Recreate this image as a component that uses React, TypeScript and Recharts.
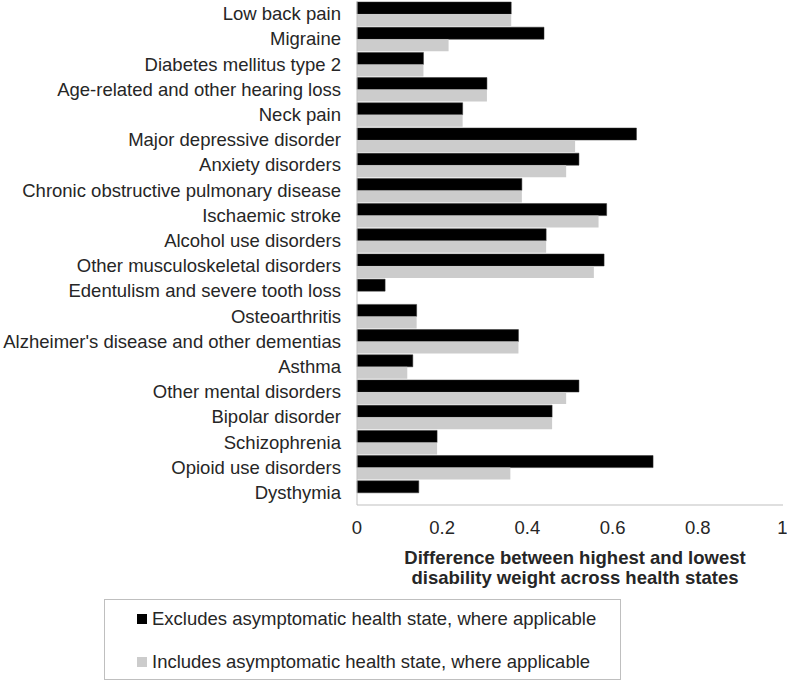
import React from 'react';
import { BarChart, Bar, XAxis, YAxis } from 'recharts';

// conditions, top to bottom
const conditions = [
  'Low back pain',
  'Migraine',
  'Diabetes mellitus type 2',
  'Age-related and other hearing loss',
  'Neck pain',
  'Major depressive disorder',
  'Anxiety disorders',
  'Chronic obstructive pulmonary disease',
  'Ischaemic stroke',
  'Alcohol use disorders',
  'Other musculoskeletal disorders',
  'Edentulism and severe tooth loss',
  'Osteoarthritis',
  "Alzheimer's disease and other dementias",
  'Asthma',
  'Other mental disorders',
  'Bipolar disorder',
  'Schizophrenia',
  'Opioid use disorders',
  'Dysthymia',
];

// excludes asymptomatic health state
const excludesAsym = [
  0.362, 0.439, 0.156, 0.305, 0.248, 0.656, 0.521, 0.387, 0.586, 0.444,
  0.58, 0.066, 0.14, 0.379, 0.131, 0.521, 0.458, 0.188, 0.695, 0.145,
];

// includes asymptomatic health state
const includesAsym = [
  0.362, 0.215, 0.156, 0.305, 0.248, 0.512, 0.491, 0.387, 0.567, 0.444,
  0.556, 0, 0.14, 0.379, 0.118, 0.491, 0.458, 0.188, 0.36, 0,
];

const xTicks = [0, 0.2, 0.4, 0.6, 0.8, 1];

const seriesNames = [
  'Excludes asymptomatic health state, where applicable',
  'Includes asymptomatic health state, where applicable',
];

const FONT = '"Liberation Sans", Arial, sans-serif';
const TEXT = '#262626';
const AXIS = '#bfbfbf';
const BLACK = '#000000';
const GREY = '#cccccc';
const FS = 18.5;

const data = conditions.map((name, i) => ({
  name,
  excl: excludesAsym[i],
  incl: includesAsym[i],
}));

export default function App() {
  return (
    <div
      style={{
        position: 'absolute',
        left: 0,
        top: 0,
        width: 787,
        height: 682,
        background: '#fff',
        fontFamily: FONT,
      }}
    >
      <BarChart
        width={787}
        height={682}
        data={data}
        layout="vertical"
        margin={{ top: 1, right: 4, bottom: 147, left: 0 }}
        barCategoryGap={1}
        barGap={0}
      >
        <XAxis
          type="number"
          domain={[0, 1]}
          ticks={xTicks}
          tickFormatter={(v) => `${v}`}
          tickLine={false}
          axisLine={{ stroke: AXIS }}
          tickMargin={10}
          tick={{ fill: TEXT, fontSize: FS, fontFamily: FONT }}
          height={30}
        />
        <YAxis
          type="category"
          dataKey="name"
          width={357}
          tickLine={false}
          axisLine={{ stroke: AXIS }}
          tickMargin={10}
          interval={0}
          tick={{ fill: TEXT, fontSize: FS, fontFamily: FONT }}
        />
        <Bar dataKey="excl" fill={BLACK} stroke="#333" strokeWidth={0.5} isAnimationActive={false} />
        <Bar dataKey="incl" fill={GREY} isAnimationActive={false} />
      </BarChart>

      {/* x axis title */}
      <div
        style={{
          position: 'absolute',
          left: 375,
          width: 400,
          top: 548,
          textAlign: 'center',
          fontWeight: 'bold',
          fontSize: FS,
          lineHeight: '20px',
          color: TEXT,
        }}
      >
        Difference between highest and lowest
        <br />
        disability weight across health states
      </div>

      {/* legend */}
      <div
        style={{
          position: 'absolute',
          left: 104,
          top: 599,
          width: 515,
          height: 79,
          border: `1px solid ${AXIS}`,
          color: TEXT,
          fontSize: FS,
        }}
      >
        {seriesNames.map((s, i) => (
          <div
            key={s}
            style={{
              position: 'absolute',
              left: 32,
              top: i === 0 ? 8 : 51,
              height: 22,
              display: 'flex',
              alignItems: 'center',
              whiteSpace: 'nowrap',
            }}
          >
            <span
              style={{
                display: 'inline-block',
                width: 10,
                height: 10,
                background: i === 0 ? BLACK : GREY,
                marginRight: 5,
              }}
            />
            {s}
          </div>
        ))}
      </div>
    </div>
  );
}
